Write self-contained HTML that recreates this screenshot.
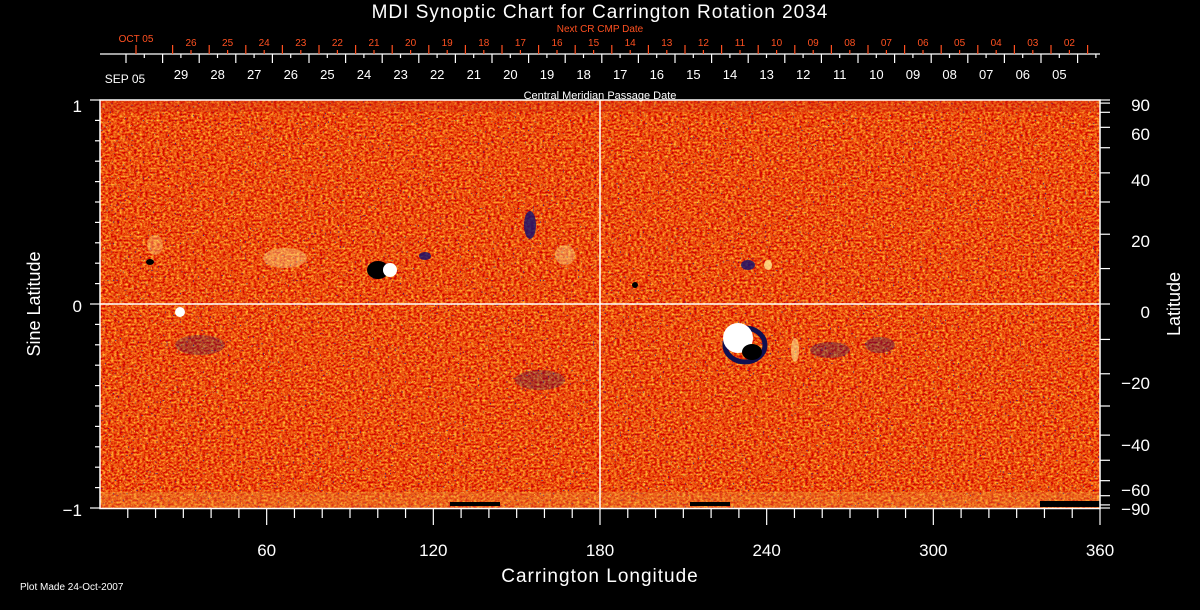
<!DOCTYPE html>
<html><head><meta charset="utf-8"><style>
html,body{margin:0;padding:0;background:#000;}
svg{display:block;}
filter{color-interpolation-filters:sRGB;}
text{font-family:"Liberation Sans",sans-serif;fill:#fff;}
</style></head><body>
<svg id="s" width="1200" height="610" xmlns="http://www.w3.org/2000/svg">
<defs>
<filter id="noise" x="0" y="0" width="100%" height="100%" color-interpolation-filters="sRGB">
<feTurbulence type="fractalNoise" baseFrequency="0.35 0.5" numOctaves="2" seed="4" result="t"/>
<feColorMatrix in="t" type="matrix" values="0.4 0 0 0 0.72  1.4 0 0 0 -0.4  0.5 0 0 0 -0.2  0 0 0 0 1"/>
</filter>
<filter id="noise2" x="0" y="0" width="100%" height="100%" color-interpolation-filters="sRGB">
<feTurbulence type="fractalNoise" baseFrequency="0.6" numOctaves="1" seed="9" result="t"/>
<feColorMatrix in="t" type="matrix" values="0 0 0 0 0.1  0 0 0 0 0.1  0 0 0 0 0.6  -14 0 0 0 4.4"/>
</filter>
<filter id="noise3" x="0" y="0" width="100%" height="100%" color-interpolation-filters="sRGB">
<feTurbulence type="fractalNoise" baseFrequency="0.7" numOctaves="1" seed="21" result="t"/>
<feColorMatrix in="t" type="matrix" values="0 0 0 0 1  0 0 0 0 0.85  0 0 0 0 0.3  14 0 0 0 -9.6"/>
</filter>
</defs>
<rect x="100" y="100" width="1000" height="408" fill="#e04818"/>
<rect x="100" y="100" width="1000" height="408" filter="url(#noise)"/>
<rect x="100" y="100" width="1000" height="408" filter="url(#noise3)" opacity="0.8"/>
<rect x="100" y="100" width="1000" height="408" filter="url(#noise2)" opacity="0.8"/>
<rect x="100" y="100" width="1000" height="12" fill="#d03010" opacity="0.3"/>
<rect x="100" y="492" width="1000" height="16" fill="#f0a040" opacity="0.3"/>
<g>
<ellipse cx="285" cy="258" rx="22" ry="10" fill="#ffe890" opacity="0.4"/>
<ellipse cx="155" cy="245" rx="8" ry="10" fill="#ffe890" opacity="0.35"/>
<ellipse cx="378" cy="270" rx="11" ry="9" fill="#000"/>
<ellipse cx="390" cy="270" rx="7" ry="7" fill="#fff"/>
<ellipse cx="425" cy="256" rx="6" ry="4" fill="#101070" opacity="0.8"/>
<ellipse cx="530" cy="225" rx="6" ry="14" fill="#101070" opacity="0.8"/>
<ellipse cx="565" cy="255" rx="10" ry="10" fill="#ffe890" opacity="0.4"/>
<ellipse cx="180" cy="312" rx="5" ry="5" fill="#fff"/>
<ellipse cx="150" cy="262" rx="4" ry="3" fill="#000"/>
<ellipse cx="745" cy="345" rx="20" ry="17" fill="none" stroke="#101050" stroke-width="5"/>
<ellipse cx="738" cy="338" rx="15" ry="15" fill="#fff"/>
<ellipse cx="752" cy="352" rx="10" ry="8" fill="#000"/>
<ellipse cx="748" cy="265" rx="7" ry="5" fill="#101070" opacity="0.8"/>
<ellipse cx="768" cy="265" rx="4" ry="5" fill="#ffe890" opacity="0.8"/>
<ellipse cx="795" cy="350" rx="4" ry="12" fill="#ffe890" opacity="0.6"/>
<ellipse cx="635" cy="285" rx="3" ry="3" fill="#000"/>
<ellipse cx="830" cy="350" rx="20" ry="8" fill="#101070" opacity="0.3"/>
<ellipse cx="880" cy="345" rx="15" ry="8" fill="#101070" opacity="0.3"/>
<ellipse cx="540" cy="380" rx="25" ry="10" fill="#101070" opacity="0.25"/>
<ellipse cx="200" cy="345" rx="25" ry="10" fill="#101070" opacity="0.25"/>
<rect x="450" y="502" width="50" height="4" fill="#000"/>
<rect x="690" y="502" width="40" height="4" fill="#000"/>
<rect x="1040" y="501" width="60" height="6" fill="#000"/>
</g>
<line x1="100" y1="304" x2="1100" y2="304" stroke="#fff" stroke-width="1.5"/>
<line x1="600" y1="100" x2="600" y2="508" stroke="#fff" stroke-width="1.5"/>
<rect x="100" y="100" width="1000" height="408.5" fill="none" stroke="#fff" stroke-width="1.5"/>
<g id="ax" stroke="#fff" stroke-width="1.2"></g>
<g id="axo" stroke="#ff5020" stroke-width="1.2"></g>
<g id="tx"></g>
<text x="600" y="18" font-size="19" text-anchor="middle" letter-spacing="1">MDI Synoptic Chart for Carrington Rotation 2034</text>
<text x="600" y="32" font-size="10" text-anchor="middle" style="fill:#ff5020">Next CR CMP Date</text>
<text x="600" y="99" font-size="11" text-anchor="middle">Central Meridian Passage Date</text>
<text x="125" y="83" font-size="12" text-anchor="middle">SEP 05</text>
<text x="136" y="42" font-size="10" text-anchor="middle" style="fill:#ff5020">OCT 05</text>
<text x="600" y="582" font-size="19" text-anchor="middle" letter-spacing="1">Carrington Longitude</text>
<text x="20" y="590" font-size="10">Plot Made 24-Oct-2007</text>
<text transform="translate(40,304) rotate(-90)" font-size="18" text-anchor="middle">Sine Latitude</text>
<text transform="translate(1180,304) rotate(-90)" font-size="18" text-anchor="middle">Latitude</text>
<text x="82" y="112" font-size="17" text-anchor="end">1</text>
<text x="82" y="312" font-size="17" text-anchor="end">0</text>
<text x="82" y="516" font-size="17" text-anchor="end">−1</text>
</svg>
<script>
var ns="http://www.w3.org/2000/svg";
function L(g,x1,y1,x2,y2){var e=document.createElementNS(ns,"line");e.setAttribute("x1",x1);e.setAttribute("y1",y1);e.setAttribute("x2",x2);e.setAttribute("y2",y2);document.getElementById(g).appendChild(e);}
function T(x,y,s,sz,c,a){var e=document.createElementNS(ns,"text");e.setAttribute("x",x);e.setAttribute("y",y);e.setAttribute("font-size",sz);e.setAttribute("text-anchor",a||"middle");if(c)e.setAttribute("style","fill:"+c);e.textContent=s;document.getElementById("tx").appendChild(e);}
L("ax",100,54,1100,54);
var d=36.6;
for(var k=0;k<27;k++){var x=126+k*d;if(x<=1100){L("ax",x,54,x,63);}
 var m=x+d/2; if(m<1100) L("ax",m,54,m,58);}
var wl=["29","28","27","26","25","24","23","22","21","20","19","18","17","16","15","14","13","12","11","10","09","08","07","06","05"];
for(var i=0;i<wl.length;i++)T(181+i*d,79,wl[i],13);
for(var k=0;k<27;k++){var x=136+k*d;if(x<1100)L("axo",x,45,x,54);}
var ol=["26","25","24","23","22","21","20","19","18","17","16","15","14","13","12","11","10","09","08","07","06","05","04","03","02"];
for(var i=0;i<ol.length;i++){T(191+i*d,46,ol[i],10,"#ff5020");L("axo",191+i*d,50,191+i*d,54);}
for(var lon=10;lon<=360;lon+=10){var x=100+lon*1000/360;L("ax",x,508,x,lon%60==0?525:518);}
for(var lon=60;lon<=360;lon+=60)T(100+lon*1000/360,556,String(lon),17);
for(var v=-1;v<=1.001;v+=0.1){var y=304-v*204;var maj=Math.abs(Math.round(v*10))%10==0;L("ax",100,y,maj?90:95,y);}
var lats=[90,80,70,60,50,40,30,20,10,0,-10,-20,-30,-40,-50,-60,-70,-80,-90];
lats.forEach(function(a){var y=304-Math.sin(a*Math.PI/180)*204;L("ax",1100,y,1110,y);});
[[90,105],[60,134],[40,180],[20,241],[0,312],[-20,383],[-40,445],[-60,490],[-90,509]].forEach(function(p){T(1150,p[1]+6,(p[0]<0?"−":"")+Math.abs(p[0]),17,null,"end");});
</script>
</body></html>
